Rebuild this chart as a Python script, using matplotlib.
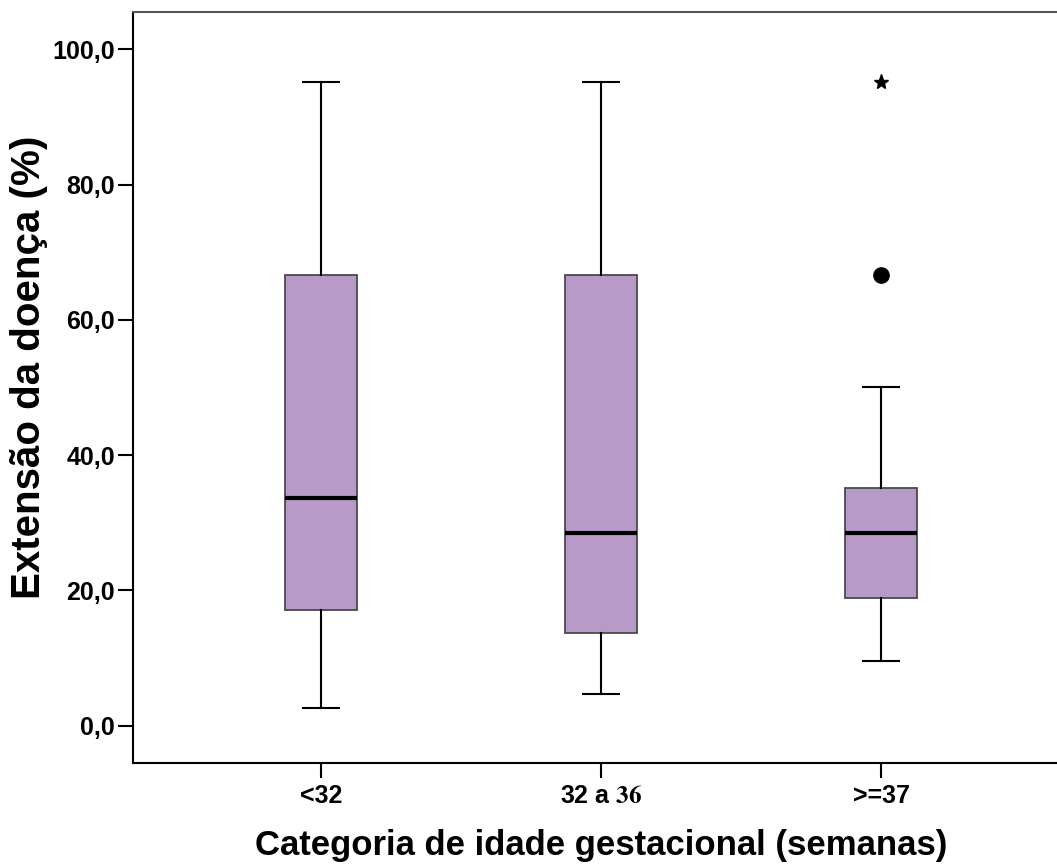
import matplotlib
matplotlib.use("Agg")
import matplotlib.pyplot as plt

categories = ["<32", "32 a $\\mathbf{36}$", ">=37"]
q1 = [17.1, 13.7, 18.9]
medians = [33.7, 28.5, 28.5]
q3 = [66.6, 66.6, 35.2]
whislo = [2.7, 4.7, 9.6]
whishi = [95.1, 95.1, 50.1]
outliers_circle = [[], [], [66.6]]
outliers_extreme = [[], [], [95.1]]
yticks = [0, 20, 40, 60, 80, 100]
ytick_labels = ["0,0", "20,0", "40,0", "60,0", "80,0", "100,0"]

plt.rcParams['font.family'] = ['Liberation Sans', 'DejaVu Sans']

fig = plt.figure(figsize=(10.57, 8.65), dpi=100)
ax = fig.add_axes([133/1057, 1 - 763/865, 1 - 133/1057, (763 - 12)/865])

stats = []
for i in range(3):
    stats.append(dict(med=medians[i], q1=q1[i], q3=q3[i], whislo=whislo[i],
                      whishi=whishi[i], fliers=[]))
pos = [1, 2, 3]
ax.bxp(stats, positions=pos, widths=0.257, patch_artist=True, showfliers=False,
       boxprops=dict(facecolor="#B89AC8", edgecolor="#4a4a4a", linewidth=1.3),
       medianprops=dict(color="black", linewidth=3),
       whiskerprops=dict(color="black", linewidth=1.5),
       capprops=dict(color="black", linewidth=1.5),
       capwidths=0.128)

for i in range(3):
    for v in outliers_circle[i]:
        ax.plot(pos[i], v, marker="o", color="black", markersize=11, linestyle="none")
    for v in outliers_extreme[i]:
        ax.plot(pos[i], v, marker="*", color="black", markersize=11, linestyle="none")

ax.set_xlim(1 - 188/280, 3 + 176/280)
ax.set_ylim(-5.5, 105.5)
ax.set_yticks(yticks)
ax.set_yticklabels(ytick_labels)
ax.set_xticks(pos)
ax.set_xticklabels(categories)
for lab in ax.get_xticklabels() + ax.get_yticklabels():
    lab.set_fontweight("bold")
    lab.set_fontsize(18)
    lab.set_math_fontfamily("stix")
ax.tick_params(axis="both", length=11, width=1.5, color="black")
ax.tick_params(axis="y", pad=2)
ax.tick_params(axis="x", pad=4)
ax.spines["right"].set_visible(False)
for s in ["left", "top", "bottom"]:
    ax.spines[s].set_linewidth(1.5)
ax.spines["top"].set_color("#555555")

ax.set_ylabel("Extensão da doença (%)", fontsize=29, fontweight="bold", labelpad=3)
ax.yaxis.label.set_y(0.527)
ax.set_xlabel("Categoria de idade gestacional (semanas)", fontsize=25, fontweight="bold", labelpad=15)
ax.xaxis.label.set_x(0.5065)

fig.savefig("out.png", dpi=100)
